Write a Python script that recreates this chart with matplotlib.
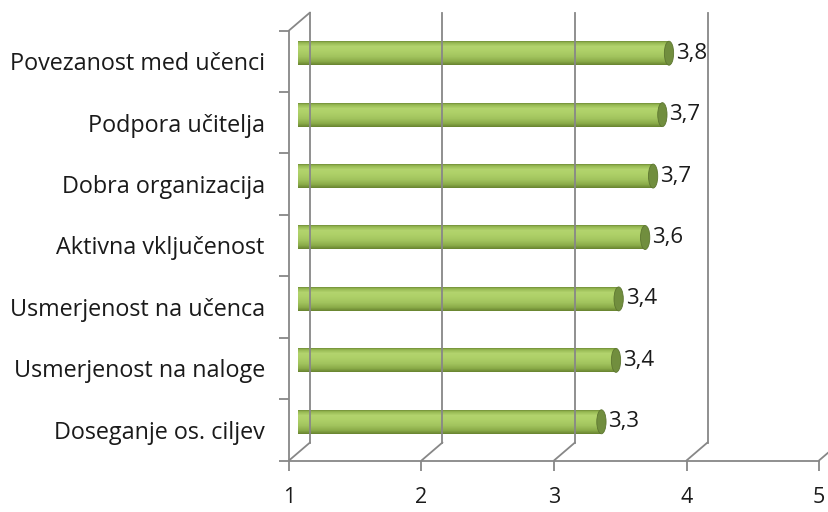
import matplotlib
matplotlib.use("Agg")
import matplotlib.pyplot as plt
import matplotlib.transforms as mtransforms
from matplotlib.patches import Ellipse
import numpy as np

categories = ["Doseganje os. ciljev", "Usmerjenost na naloge", "Usmerjenost na učenca",
              "Aktivna vključenost", "Dobra organizacija", "Podpora učitelja",
              "Povezanost med učenci"]
values = [3.29, 3.40, 3.42, 3.62, 3.68, 3.75, 3.80]
value_labels = ["3,3", "3,4", "3,4", "3,6", "3,7", "3,7", "3,8"]
xticks = [1, 2, 3, 4, 5]

FONT = "Open Sans"
TXT = "#1a1a1a"
W, H = 829, 512
fig = plt.figure(figsize=(W / 100, H / 100), dpi=100)
ax = fig.add_axes([289 / W, 51.5 / H, 530 / W, 430 / H])
ax.set_xlim(1, 5)
ymin, ymax = -0.5, len(categories) - 0.5
ax.set_ylim(ymin, ymax)
for s in ax.spines.values():
    s.set_visible(False)

grid_c = "#878787"
LW = 1.3
DX, DY = 21, 18  # depth offset in pixels


def off(dx, dy):
    return ax.transData + mtransforms.Affine2D().translate(dx, dy)


def depth_line(x, y):
    ax.annotate("", xy=(x, y), xycoords="data", xytext=(DX, DY), textcoords="offset pixels",
                arrowprops=dict(arrowstyle="-", color=grid_c, lw=LW, shrinkA=0, shrinkB=0),
                annotation_clip=False)


back = off(DX, DY)
# back wall gridlines
for xv in xticks:
    ax.plot([xv, xv], [ymin, ymax], color=grid_c, lw=LW, transform=back, clip_on=False)
# floor diagonals and left-wall top edge
for xv in xticks:
    depth_line(xv, ymin)
depth_line(1, ymax)
# front axes lines
ax.plot([1, 5], [ymin, ymin], color=grid_c, lw=LW, clip_on=False)
ax.plot([1, 1], [ymin, ymax], color=grid_c, lw=LW, clip_on=False)

# ticks
ax.set_xticks(xticks)
ax.set_xticklabels([str(x) for x in xticks], fontsize=15.5, family=FONT, color=TXT)
ax.tick_params(axis="x", direction="out", length=7, width=LW, color=grid_c, pad=12)
bounds = np.arange(ymin, ymax + 0.01, 1.0)
ax.set_yticks(bounds)
ax.set_yticklabels([""] * len(bounds))
ax.set_yticks(range(len(categories)), minor=True)
ax.set_yticklabels([c + " " for c in categories], minor=True, fontsize=16.8, family=FONT,
                   color=TXT)
ax.tick_params(axis="y", which="major", direction="out", length=7, width=LW, color=grid_c)
ax.tick_params(axis="y", which="minor", length=0, pad=13)

# cylinder bars
BX, BY = 9, 8
bar_t = off(BX, BY)
bh = 0.39
stops_t = [1.0, 0.85, 0.55, 0.2, -0.3, -0.7, -1.0]
stops_c = ["#6f8c36", "#96b852", "#b2d36d", "#aed068", "#a1c35d", "#89aa48", "#66812e"]
rgb = np.array([matplotlib.colors.to_rgb(c) for c in stops_c])
N = 24
for i, v in enumerate(values):
    for k in range(N):
        t = 1 - (k + 0.5) / N * 2
        col = [np.interp(-t, [-s for s in stops_t], rgb[:, j]) for j in range(3)]
        y0 = i + bh / 2 - (k + 1) * bh / N
        ax.barh(y0, v - 1, left=1, height=bh / N * 1.05, align="edge", color=col,
                linewidth=0, transform=bar_t, clip_on=False)
    cap = Ellipse((v, i), width=0.07, height=bh, facecolor="#718e3e",
                  edgecolor="#5d7630", lw=0.6, transform=bar_t, clip_on=False)
    ax.add_patch(cap)
    ax.text(v, i, value_labels[i], transform=off(BX + 7, BY), ha="left", va="center",
            fontsize=16, family=FONT, color=TXT)

fig.savefig("out.png", dpi=100)
